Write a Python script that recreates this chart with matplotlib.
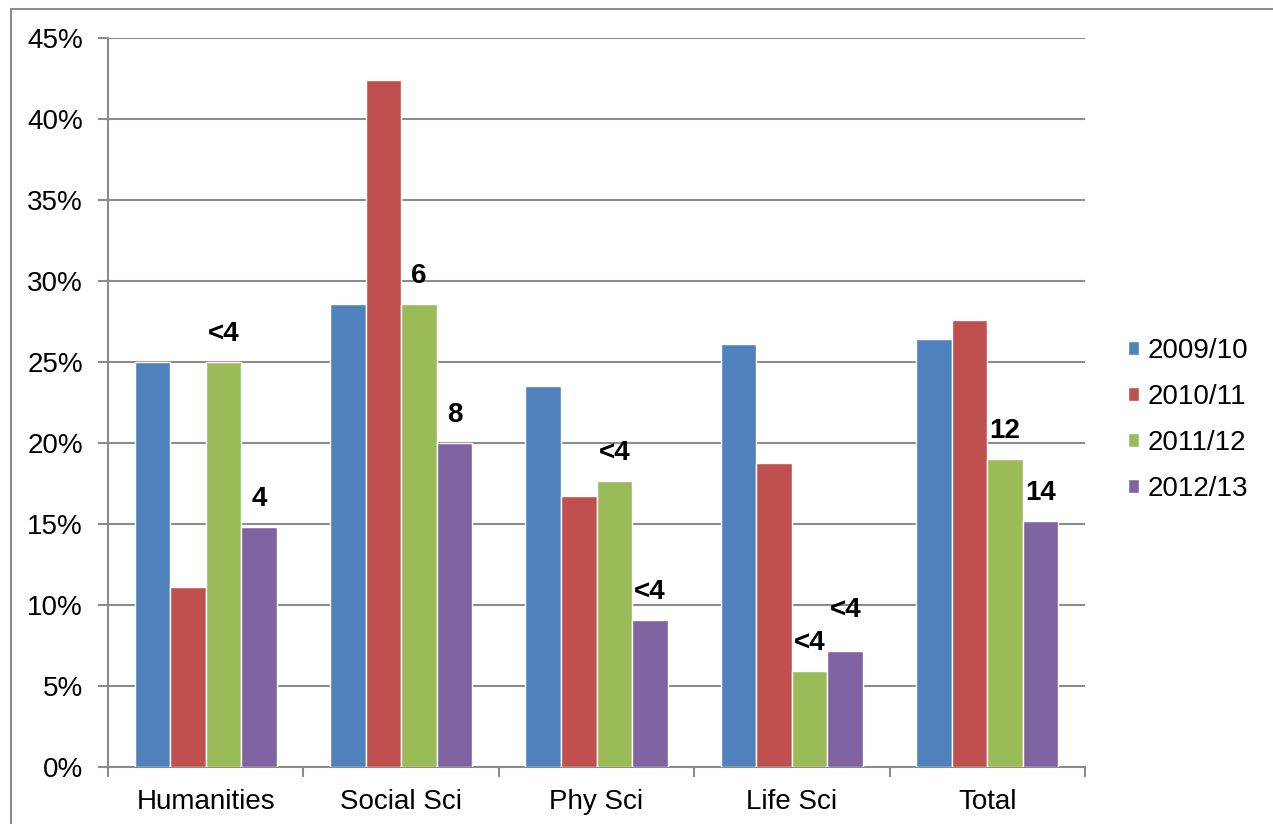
import matplotlib
matplotlib.use("Agg")
import matplotlib.pyplot as plt
from matplotlib.patches import Rectangle
import numpy as np

plt.rcParams['font.family'] = ['Liberation Sans', 'DejaVu Sans']

categories = ["Humanities", "Social Sci", "Phy Sci", "Life Sci", "Total"]
series_names = ["2009/10", "2010/11", "2011/12", "2012/13"]
v_2009 = [25.0, 28.6, 23.5, 26.1, 26.4]
v_2010 = [11.1, 42.4, 16.7, 18.75, 27.6]
v_2011 = [25.0, 28.6, 17.65, 5.9, 19.0]
v_2012 = [14.8, 20.0, 9.1, 7.15, 15.2]
series_values = [v_2009, v_2010, v_2011, v_2012]
colors = ["#4F81BD", "#C0504D", "#9BBB59", "#8064A2"]

# count labels: (category index, series index, text)
count_labels = [
    (0, 2, "<4"), (0, 3, "4"),
    (1, 2, "6"), (1, 3, "8"),
    (2, 2, "<4"), (2, 3, "<4"),
    (3, 2, "<4"), (3, 3, "<4"),
    (4, 2, "12"), (4, 3, "14"),
]
y_ticks = [0, 5, 10, 15, 20, 25, 30, 35, 40, 45]
y_tick_labels = ["%d%%" % t for t in y_ticks]

fig = plt.figure(figsize=(12.73, 8.24), dpi=100)
ax = fig.add_axes([108/1273, 57/824, (1085-108)/1273, (767-38)/824])

# outer chart border (only left/top visible)
fig.patches.append(Rectangle((11/1273, -0.1), 1.2, (824-9)/824 + 0.1,
                             transform=fig.transFigure, fill=False,
                             edgecolor="#8c8c8c", linewidth=1.5, zorder=0))

x = np.arange(len(categories))
bw = 0.182
grid_col = "#8C8C8C"
for i, (name, vals, c) in enumerate(zip(series_names, series_values, colors)):
    offs = (i - 1.5) * bw
    ax.bar(x + offs, vals, width=bw, color=c, edgecolor="white", linewidth=1.0,
           label=name, zorder=3)

for ci, si, txt in count_labels:
    val = series_values[si][ci]
    dy = 28 if not (ci == 3 and si == 3) else 41
    ax.annotate(txt, (x[ci] + (si - 1.5) * bw, val), xytext=(0, dy * 0.72),
                textcoords="offset points", ha="center", va="center",
                fontsize=20, fontweight="bold", zorder=5)

ax.set_xlim(-0.5, len(categories) - 0.5)
ax.set_ylim(0, 45)
ax.set_yticks(y_ticks)
ax.set_yticklabels(y_tick_labels, fontsize=20)
ax.set_xticks(x)
ax.set_xticklabels(categories, fontsize=20)
ax.set_xticks(np.arange(-0.5, len(categories), 1.0), minor=True)
ax.tick_params(axis="x", which="major", length=0, pad=15.5)
ax.tick_params(axis="x", which="minor", length=7, width=1.5, color=grid_col, direction="out")
ax.tick_params(axis="y", length=7, width=1.5, color=grid_col, pad=11)

ax.yaxis.grid(True, color=grid_col, linewidth=1.5, zorder=0)
ax.set_axisbelow(True)
for s in ["top", "right"]:
    ax.spines[s].set_visible(False)
for s in ["left", "bottom"]:
    ax.spines[s].set_color(grid_col)
    ax.spines[s].set_linewidth(1.5)

leg = ax.legend(loc="center left", bbox_to_anchor=(0.044 + 1.0, 0.476), frameon=False,
                fontsize=20, handlelength=0.4, handleheight=0.4,
                handletextpad=0.32, labelspacing=0.72, borderpad=0, borderaxespad=0)

fig.savefig("out.png", dpi=100, facecolor="white")
